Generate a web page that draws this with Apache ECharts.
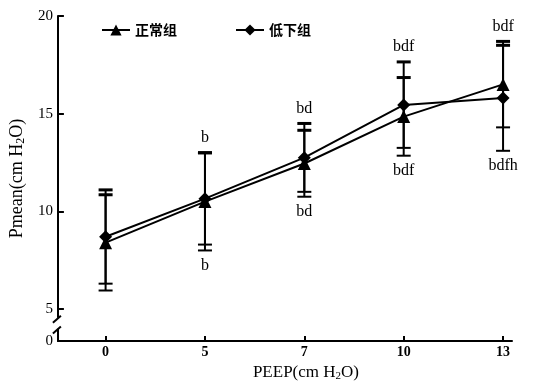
<!DOCTYPE html>
<html>
<head>
<meta charset="utf-8">
<script src="https://cdn.jsdelivr.net/npm/echarts@6/dist/echarts.min.js"></script>
<style>
html,body{margin:0;padding:0;background:#fff;}
#c{width:549px;height:387px;}
</style>
</head>
<body>
<div id="c"></div>
<script>
const xLabels = ['0', '5', '7', '10', '13'];
const yTickValues = [5, 10, 15, 20];
const normalMean = [8.4, 10.5, 12.45, 14.85, 16.5];
const normalSD = [2.45, 2.5, 1.7, 2.0, 2.2];
const lowMean = [8.7, 10.65, 12.75, 15.45, 15.8];
const lowSD = [2.4, 2.35, 1.75, 2.2, 2.7];
const aboveMarks = ['', 'b', 'bd', 'bdf', 'bdf'];
const belowMarks = ['', 'b', 'bd', 'bdf', 'bdfh'];
const seriesNames = ['正常组', '低下组'];

const yMin = 3.36, yMax = 20;
const xMin = -0.48, xMax = 4.09;
const serif = '"Liberation Serif","DejaVu Serif",serif';

const idx = xLabels.map((_, i) => i);
const normalData = idx.map(i => [i, normalMean[i]]);
const lowData = idx.map(i => [i, lowMean[i]]);
const errNormal = idx.map(i => [i, normalMean[i] - normalSD[i], normalMean[i] + normalSD[i]]);
const errLow = idx.map(i => [i, lowMean[i] - lowSD[i], lowMean[i] + lowSD[i]]);
const markData = idx.map(i => [i,
  Math.max(normalMean[i] + normalSD[i], lowMean[i] + lowSD[i]),
  Math.min(normalMean[i] - normalSD[i], lowMean[i] - lowSD[i])]);

function errRender(params, api) {
  const x = api.value(0), lo = api.value(1), hi = api.value(2);
  const t = api.coord([x, hi]), b = api.coord([x, lo]);
  const hw = 7;
  return {type: 'group', children: [
    {type: 'line', shape: {x1: t[0], y1: t[1], x2: b[0], y2: b[1]}, style: {stroke: '#000', lineWidth: 2}},
    {type: 'line', shape: {x1: t[0] - hw, y1: t[1], x2: t[0] + hw, y2: t[1]}, style: {stroke: '#000', lineWidth: 3}},
    {type: 'line', shape: {x1: b[0] - hw, y1: b[1], x2: b[0] + hw, y2: b[1]}, style: {stroke: '#000', lineWidth: 2}}
  ]};
}

function markRender(params, api) {
  const i = params.dataIndex;
  const x = api.value(0);
  const t = api.coord([x, api.value(1)]), b = api.coord([x, api.value(2)]);
  const kids = [];
  if (aboveMarks[i]) kids.push({type: 'text', x: t[0], y: t[1] - 7,
    style: {text: aboveMarks[i], fill: '#000', font: '16px ' + serif, align: 'center', verticalAlign: 'bottom'}});
  if (belowMarks[i]) kids.push({type: 'text', x: b[0], y: b[1] + 7,
    style: {text: belowMarks[i], fill: '#000', font: '16px ' + serif, align: 'center', verticalAlign: 'top'}});
  return {type: 'group', children: kids};
}

const chart = echarts.init(document.getElementById('c'), null, {renderer: 'canvas'});
chart.setOption({
  backgroundColor: '#fff',
  animation: false,
  grid: {left: 57, right: 37, top: 16, bottom: 36, containLabel: false},
  legend: {
    data: seriesNames, left: 96, top: 18, itemWidth: 28, itemHeight: 14, itemGap: 58,
    textStyle: {fontFamily: '"Noto Sans CJK SC"', fontWeight: 'bold', fontSize: 14, color: '#000'}
  },
  xAxis: {
    type: 'value', min: xMin, max: xMax,
    name: 'PEEP(cm H{s|2}O)', nameLocation: 'middle', nameGap: 18,
    nameTextStyle: {fontFamily: serif, fontSize: 17, color: '#000', padding: [0, 0, 0, 42],
      rich: {s: {fontFamily: serif, fontSize: 11, padding: [8, 0, 0, 0], color: '#000'}}},
    axisLine: {show: true, onZero: false, lineStyle: {color: '#000', width: 2}},
    axisTick: {show: true, inside: true, length: 5, lineStyle: {color: '#000', width: 2}, customValues: idx},
    axisLabel: {customValues: idx, formatter: v => xLabels[Math.round(v)], fontFamily: serif, fontSize: 14, fontWeight: 'bold', color: '#000', margin: 4},
    splitLine: {show: false}
  },
  yAxis: {
    type: 'value', min: yMin, max: yMax,
    name: 'Pmean(cm H{s|2}O)', nameLocation: 'middle', nameGap: 30,
    nameTextStyle: {fontFamily: serif, fontSize: 18, color: '#000',
      rich: {s: {fontFamily: serif, fontSize: 12, padding: [8, 0, 0, 0], color: '#000'}}},
    axisLine: {show: true, onZero: false, lineStyle: {color: '#000', width: 2}},
    axisTick: {show: true, inside: true, length: 6, lineStyle: {color: '#000', width: 2}, customValues: yTickValues},
    axisLabel: {customValues: [yMin].concat(yTickValues), formatter: v => (v < 4 ? '0' : String(v)),
      fontFamily: serif, fontSize: 15, color: '#000', margin: 5},
    splitLine: {show: false}
  },
  series: [
    {type: 'custom', renderItem: errRender, data: errNormal, z: 2, silent: true},
    {type: 'custom', renderItem: errRender, data: errLow, z: 2, silent: true},
    {type: 'custom', renderItem: markRender, data: markData, z: 2, silent: true},
    {name: seriesNames[0], type: 'line', data: normalData, symbol: 'triangle', symbolSize: 13,
      lineStyle: {color: '#000', width: 2}, itemStyle: {color: '#000'}, z: 5},
    {name: seriesNames[1], type: 'line', data: lowData, symbol: 'diamond', symbolSize: 13,
      lineStyle: {color: '#000', width: 2}, itemStyle: {color: '#000'}, z: 5}
  ]
});

// axis break decoration on the y axis between 0 and 5
const p1 = chart.convertToPixel({gridIndex: 0}, [xMin, 4.55]);
const p2 = chart.convertToPixel({gridIndex: 0}, [xMin, 4.0]);
chart.setOption({
  graphic: [
    {type: 'rect', shape: {x: p1[0] - 3, y: p1[1], width: 6, height: p2[1] - p1[1]}, style: {fill: '#fff'}, z: 100},
    {type: 'line', shape: {x1: p1[0] - 5, y1: p1[1] + 5, x2: p1[0] + 3, y2: p1[1] - 2}, style: {stroke: '#000', lineWidth: 2}, z: 101},
    {type: 'line', shape: {x1: p2[0] - 5, y1: p2[1] + 5, x2: p2[0] + 3, y2: p2[1] - 2}, style: {stroke: '#000', lineWidth: 2}, z: 101}
  ]
});
</script>
</body>
</html>
